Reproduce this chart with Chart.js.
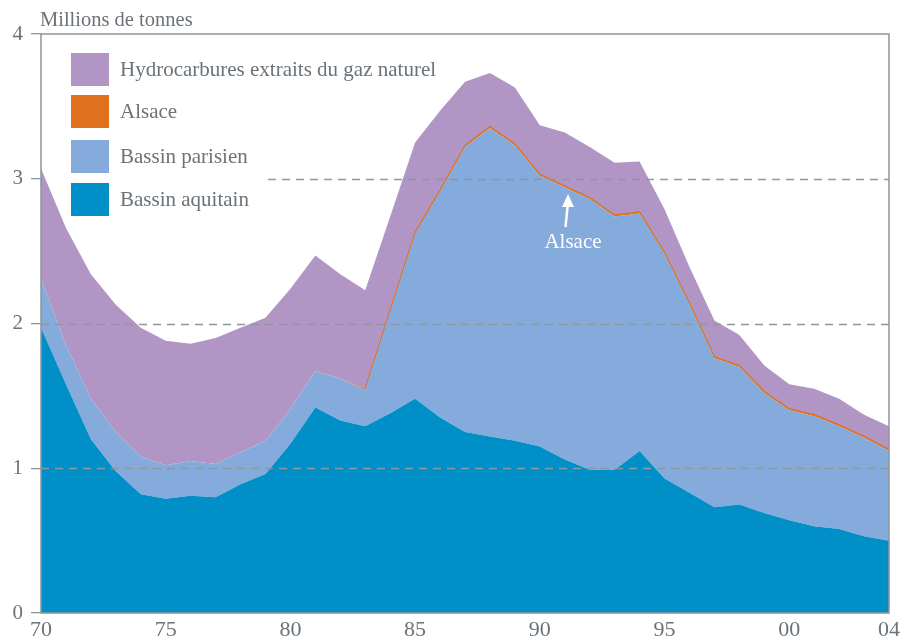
<!DOCTYPE html>
<html><head><meta charset="utf-8">
<script src="https://cdn.jsdelivr.net/npm/chart.js@4.4.1/dist/chart.umd.min.js"></script>
<style>html,body{margin:0;padding:0;background:#fff;}#wrap{width:901px;height:644px;position:relative;}</style>
</head><body><div id="wrap"><canvas id="c" width="901" height="644"></canvas></div>
<script>
const years = [1970,1971,1972,1973,1974,1975,1976,1977,1978,1979,1980,1981,1982,1983,1984,1985,1986,1987,1988,1989,1990,1991,1992,1993,1994,1995,1996,1997,1998,1999,2000,2001,2002,2003,2004];
const aquitain = [1.97,1.58,1.20,0.98,0.82,0.79,0.81,0.80,0.89,0.96, 1.17,1.42,1.33,1.29,1.38,1.48,1.35,1.25,1.22,1.19, 1.15,1.06,0.99,0.99,1.12,0.93,0.83,0.73,0.75,0.69, 0.64,0.60,0.58,0.53,0.50];
const parisien = [0.34,0.27,0.28,0.27,0.26,0.23,0.24,0.23,0.22,0.23, 0.24,0.25,0.29,0.25,0.70,1.14,1.56,1.97,2.13,2.04, 1.87,1.88,1.87,1.75,1.64,1.55,1.30,1.03,0.95,0.83, 0.76,0.76,0.71,0.68,0.62];
const alsace = [0,0,0,0,0,0,0,0,0,0, 0,0,0,0.01,0.01,0.01,0.01,0.01,0.01,0.01, 0.01,0.01,0.01,0.01,0.01,0.01,0.01,0.01,0.01,0.01, 0.01,0.01,0.01,0.01,0.01];
const hydrocarbures = [0.76,0.81,0.86,0.88,0.89,0.86,0.81,0.87,0.86,0.85, 0.83,0.80,0.72,0.68,0.65,0.62,0.55,0.44,0.37,0.39, 0.34,0.37,0.35,0.36,0.35,0.30,0.25,0.25,0.21,0.18, 0.17,0.18,0.18,0.15,0.16];
const xTicks = [1970,1975,1980,1985,1990,1995,2000,2004];
const yTicks = [0,1,2,3,4];
const seriesNames = ['Bassin aquitain','Bassin parisien','Alsace','Hydrocarbures extraits du gaz naturel'];
const unitTitle = 'Millions de tonnes';
const annotationText = 'Alsace';
const alsaceLineFrom = 1983;

const COLORS = {aquitain:'#008fc7', parisien:'#85aadc', alsace:'#e0711f', hydro:'#b195c5'};
const GREY = '#8c959b';
const TEXT = '#6b7379';
const FONT = "'Liberation Serif','Times New Roman',serif";
const pts = arr => years.map((yr,i)=>({x:yr,y:arr[i]}));

const overlay = {
  id:'overlay',
  afterDatasetsDraw(chart){
    const {ctx, chartArea:{left,right,top,bottom}, scales:{x,y}} = chart;
    ctx.save();
    ctx.strokeStyle = '#8f979c'; ctx.lineWidth = 1.3; ctx.setLineDash([8,6]);
    [1,2,3].forEach(v=>{
      const py = Math.round(y.getPixelForValue(v))+0.5;
      ctx.beginPath(); ctx.moveTo(v===3?268:left, py); ctx.lineTo(right, py); ctx.stroke();
    });
    ctx.setLineDash([]);
    ctx.strokeStyle = GREY; ctx.lineWidth = 1.5;
    ctx.strokeRect(left, top, right-left, bottom-top);
    const items = [
      {c:COLORS.hydro, t:seriesNames[3], y:53},
      {c:COLORS.alsace, t:seriesNames[2], y:95},
      {c:COLORS.parisien, t:seriesNames[1], y:140},
      {c:COLORS.aquitain, t:seriesNames[0], y:183}
    ];
    ctx.font = '21px '+FONT; ctx.textBaseline='middle'; ctx.textAlign='left';
    items.forEach(it=>{
      ctx.fillStyle = it.c; ctx.fillRect(71, it.y, 38, 33);
      ctx.fillStyle = TEXT; ctx.fillText(it.t, 120, it.y+17.5);
    });
    const tx = x.getPixelForValue(1991.13), ty = y.getPixelForValue(2.895);
    const bx = x.getPixelForValue(1991.03), by = y.getPixelForValue(2.665);
    ctx.fillStyle = '#ffffff'; ctx.strokeStyle = '#ffffff'; ctx.lineWidth = 2.5;
    ctx.beginPath(); ctx.moveTo(bx,by); ctx.lineTo(tx-0.2, ty+10); ctx.stroke();
    ctx.beginPath(); ctx.moveTo(tx,ty); ctx.lineTo(tx-6,ty+13); ctx.lineTo(tx+6,ty+13); ctx.closePath(); ctx.fill();
    ctx.font = '21px '+FONT; ctx.textAlign='center'; ctx.textBaseline='alphabetic';
    ctx.fillText(annotationText, x.getPixelForValue(1991.33), y.getPixelForValue(2.52));
    ctx.fillStyle = TEXT; ctx.textAlign='left'; ctx.font = '20.5px '+FONT;
    ctx.fillText(unitTitle, 40, 26);
    ctx.restore();
  }
};

const alsaceBorder = c => {
  const chart = c.chart, ca = chart.chartArea;
  if (!ca || !chart.scales.x) return COLORS.alsace;
  const g = chart.ctx.createLinearGradient(ca.left,0,ca.right,0);
  const f = (chart.scales.x.getPixelForValue(alsaceLineFrom) - ca.left)/(ca.right-ca.left);
  g.addColorStop(0,'rgba(224,113,31,0)');
  g.addColorStop(Math.max(0,f-0.001),'rgba(224,113,31,0)');
  g.addColorStop(f,COLORS.alsace);
  g.addColorStop(1,COLORS.alsace);
  return g;
};

const ds = (label, data, color, fill, extra={}) => Object.assign({
  label, data: pts(data), backgroundColor: color, borderColor: color, borderWidth: 0,
  fill, pointRadius: 0, tension: 0
}, extra);

new Chart(document.getElementById('c'), {
  type:'line',
  data:{ datasets:[
    ds(seriesNames[0], aquitain, COLORS.aquitain, 'origin'),
    ds(seriesNames[1], parisien, COLORS.parisien, '-1'),
    ds(seriesNames[2], alsace, COLORS.alsace, '-1', {borderWidth:1.3, borderColor: alsaceBorder}),
    ds(seriesNames[3], hydrocarbures, COLORS.hydro, '-1')
  ]},
  options:{
    responsive:false, devicePixelRatio:1, animation:false,
    layout:{padding:{top:34,right:12,left:0,bottom:0}},
    plugins:{legend:{display:false}, tooltip:{enabled:false}, title:{display:false}},
    scales:{
      x:{type:'linear', min:1970, max:2004,
        afterBuildTicks: s => { s.ticks = xTicks.map(v=>({value:v})); },
        afterFit: s => { s.height = 31; s.paddingLeft = 0; s.paddingRight = 0; },
        ticks:{callback: v => String(v).slice(2), font:{family:FONT,size:22}, color:TEXT, padding:4, maxRotation:0, autoSkip:false},
        grid:{display:false, drawTicks:false}, border:{display:false}},
      y:{stacked:true, min:0, max:4,
        afterBuildTicks: s => { s.ticks = yTicks.map(v=>({value:v})); },
        afterFit: s => { s.width = 41; },
        ticks:{font:{family:FONT,size:21}, color:TEXT, padding:8},
        grid:{drawOnChartArea:false, drawTicks:true, tickLength:10, color:GREY, lineWidth:1.3},
        border:{display:false}}
    }
  },
  plugins:[overlay]
});
</script></body></html>
